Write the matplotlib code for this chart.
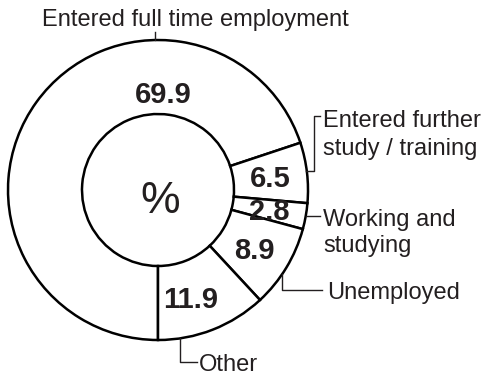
import numpy as np
import matplotlib.pyplot as plt

W, H = 487, 378

# shares of graduates by destination, %
categories = ['Entered full time employment', 'Entered further\nstudy / training',
              'Working and\nstudying', 'Unemployed', 'Other']
values = [69.9, 6.5, 2.8, 8.9, 11.9]

ink = '#231f20'
plt.rcParams['font.family'] = ['Liberation Sans', 'DejaVu Sans']

fig = plt.figure(figsize=(W / 100, H / 100), dpi=100)
ax = fig.add_axes([0, 0, 1, 1])

# everything below is laid out in pixel units, y measured from the top
def py(y):
    return H - y

cx, cy = 158, 190
r_out, r_in = 150, 76

wedges, _ = ax.pie(values, startangle=-90, counterclock=False, radius=r_out,
                   center=(cx, py(cy)),
                   wedgeprops=dict(width=r_out - r_in, facecolor='white',
                                   edgecolor='black', linewidth=1.8))

# value labels inside the ring; a couple are nudged off the mid angle
overrides = {0: (87, 98), 4: (-73, 112)}
for i, (w, v) in enumerate(zip(wedges, values)):
    ang, rr = (w.theta1 + w.theta2) / 2, 113
    if i in overrides:
        ang, rr = overrides[i]
    a = np.deg2rad(ang)
    x = cx + rr * np.cos(a)
    y = cy - rr * np.sin(a)
    ax.text(x, py(y + 10.5), f'{v}', ha='center', va='baseline',
            fontsize=21, fontweight='bold', color=ink)

ax.text(cx + 2, py(cy + 23), '%', ha='center', va='baseline', fontsize=32, color=ink)

# category labels and their leader lines
label_xy = [(42, [26]), (323, [127, 155]), (323, [226, 252]), (327, [299]), (199, [371])]
leaders = [
    [(155, 32), (155, 40)],
    [(306, 171), (314, 171), (314, 116), (320, 116)],
    [(306, 216), (320, 216)],
    [(282, 274), (282, 290), (322, 290)],
    [(180, 338), (180, 362), (197, 362)],
]
for name, (x, ys), pts in zip(categories, label_xy, leaders):
    for line, y in zip(name.split('\n'), ys):
        ax.text(x, py(y), line, ha='left', va='baseline', fontsize=17, color=ink)
    xs, yy = zip(*pts)
    ax.plot(xs, [py(v) for v in yy], color=ink, linewidth=1.0)

ax.set_xlim(0, W)
ax.set_ylim(0, H)
ax.axis('off')

fig.savefig('out.png', dpi=100, facecolor='white')
